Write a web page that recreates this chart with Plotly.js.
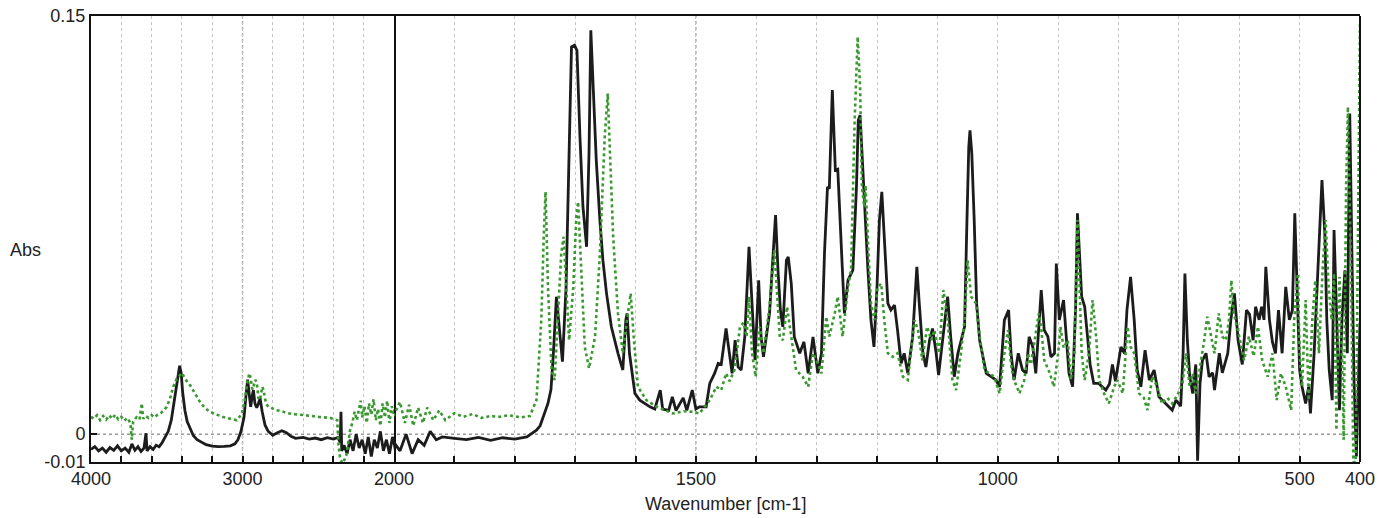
<!DOCTYPE html>
<html>
<head>
<meta charset="utf-8">
<script src="https://cdn.plot.ly/plotly-3.0.1.min.js"></script>
<style>html,body{margin:0;padding:0;background:#fff;}#chart{width:1382px;height:518px;}</style>
</head>
<body>
<div id="chart"></div>
<script>
// Black (solid) spectrum: wavenumber [cm-1] and absorbance
const wnBlack = [4000,3975,3950,3925,3900,3875,3850,3825,3800,3775,3750,3730,3710,3690,3670,3650,3637,3630,3610,3590,3570,3550,3530,3510,3490,3470,3450,3430,3415,3405,3395,3380,3365,3345,3325,3300,3270,3240,3200,3160,3120,3080,3050,3030,3010,2990,2975,2966,2955,2946,2935,2928,2918,2906,2895,2884,2870,2851,2830,2800,2770,2740,2710,2680,2650,2600,2560,2520,2480,2440,2400,2370,2355,2350,2345,2330,2310,2290,2270,2250,2230,2210,2190,2170,2150,2130,2110,2090,2070,2050,2030,2010,2000,
1990,1980,1970,1960,1950,1940,1930,1920,1900,1880,1860,1840,1820,1800,1780,1770,1764,1758,1752,1745,1740,1736,1731,1726,1721,1715,1709,1706,1701,1697,1692,1687,1681,1677,1674,1670,1665,1659,1654,1648,1640,1629,1621,1616,1614,1610,1601,1593,1576,1568,1559,1555,1545,1539,1533,1521,1515,1506,1500,1494,1483,1477,1469,1463,1458,1450,1444,1440,1435,1430,1425,1419,1412,1407,1402,1396,1392,1388,1378,1372,1368,1364,1360,1356,1350,1347,1342,1337,1328,1321,1314,1306,1298,1292,1287,1282,1279,1274,1269,1265,1259,1254,1248,1240,1234,1231,1228,1225,1221,1215,1210,1205,1200,1196,1192,1188,1182,1177,1171,1166,1160,1155,1149,1141,1134,1130,1124,1119,1113,1108,1102,1098,1091,1083,1078,1072,1066,1061,1055,1051,1048,1046,1043,1039,1035,1030,1025,1019,1011,1003,997,989,982,978,973,966,959,953,948,942,937,928,923,917,912,906,903,898,891,886,882,876,871,868,865,861,856,852,847,841,833,821,815,810,805,796,790,786,780,774,769,763,756,749,741,733,722,711,705,697,693,690,686,682,677,672,669,665,661,655,650,644,641,633,628,619,614,608,602,595,588,583,577,573,567,563,559,556,550,545,540,535,529,523,517,512,508,504,500,496,490,485,482,476,468,463,458,455,451,446,443,438,434,430,425,421,417,413,410,406,402,400];
const absBlack = [-0.0055,-0.0045,-0.006,-0.005,-0.0065,-0.0048,-0.0058,-0.0042,-0.006,-0.005,-0.0065,-0.0035,-0.0058,-0.0045,-0.0062,-0.005,0.0003,-0.006,-0.0045,-0.0055,-0.004,-0.0045,-0.003,-0.001,0.001,0.005,0.012,0.019,0.0245,0.022,0.015,0.0085,0.0045,0.002,-0.0005,-0.002,-0.003,-0.0038,-0.0043,-0.0045,-0.0044,-0.0042,-0.0035,-0.002,0.001,0.006,0.015,0.0195,0.014,0.0098,0.014,0.0158,0.011,0.0095,0.011,0.0129,0.008,0.0032,0.001,-0.0004,0.0005,0.0012,0.0005,-0.0008,-0.0015,-0.0012,-0.0018,-0.0014,-0.002,-0.0013,-0.0018,-0.0012,-0.003,0.008,-0.006,-0.004,-0.007,-0.002,-0.006,0.0,-0.005,-0.002,-0.007,-0.001,-0.008,-0.002,-0.005,0.001,-0.006,-0.002,-0.007,-0.001,-0.003,
-0.006,0.0,-0.007,-0.002,-0.004,0.001,-0.002,-0.001,-0.0015,-0.002,-0.0012,-0.0022,-0.0013,-0.0018,-0.001,0.0005,0.0014,0.003,0.0065,0.011,0.016,0.029,0.0493,0.038,0.026,0.0528,0.1126,0.1389,0.1395,0.1377,0.1066,0.0815,0.0672,0.1007,0.1449,0.1246,0.0983,0.0768,0.0624,0.0505,0.0385,0.029,0.023,0.041,0.0433,0.029,0.0146,0.0122,0.0098,0.009,0.0158,0.009,0.0085,0.0134,0.0085,0.013,0.0085,0.0158,0.009,0.0098,0.0098,0.0182,0.0218,0.0254,0.025,0.0379,0.029,0.0218,0.0337,0.0241,0.023,0.0349,0.0672,0.0469,0.0265,0.0552,0.0349,0.0277,0.0433,0.0648,0.0786,0.0588,0.0445,0.0385,0.0624,0.0636,0.054,0.0349,0.029,0.0331,0.0218,0.0349,0.0218,0.029,0.0648,0.0887,0.088,0.1234,0.0947,0.095,0.0648,0.0433,0.0552,0.0588,0.0887,0.1126,0.1144,0.1007,0.0828,0.0588,0.0409,0.0313,0.0528,0.0768,0.0869,0.0708,0.0469,0.0445,0.0463,0.0373,0.0254,0.029,0.0218,0.0349,0.06,0.0469,0.029,0.0241,0.0337,0.0379,0.029,0.0212,0.0349,0.0493,0.035,0.0206,0.029,0.033,0.0385,0.0768,0.103,0.109,0.1007,0.0768,0.0469,0.0337,0.0277,0.0218,0.0206,0.0194,0.017,0.0409,0.0445,0.029,0.0194,0.029,0.023,0.0218,0.0349,0.0313,0.0218,0.0517,0.0373,0.035,0.0277,0.029,0.0612,0.041,0.0481,0.035,0.0218,0.017,0.0457,0.0792,0.0648,0.0493,0.0457,0.035,0.025,0.0182,0.0182,0.0158,0.018,0.025,0.019,0.0313,0.029,0.0445,0.0564,0.041,0.023,0.017,0.0301,0.0194,0.023,0.0134,0.011,0.0086,0.0122,0.010,0.029,0.0576,0.0337,0.0206,0.0146,0.025,-0.0095,0.0182,0.0265,0.029,0.0206,0.022,0.0158,0.029,0.022,0.029,0.0409,0.0505,0.0337,0.025,0.0445,0.043,0.0337,0.0457,0.041,0.0457,0.041,0.06,0.041,0.033,0.029,0.0445,0.029,0.0528,0.041,0.0445,0.0792,0.0528,0.023,0.017,0.011,0.017,0.0074,0.029,0.0648,0.0911,0.0708,0.041,0.023,0.0122,0.0732,0.041,0.0086,0.041,0.0588,0.029,0.115,0.06,0.02,-0.008,0.03,0.04];

// Green (dotted) spectrum
const wnGreen = [4000,3980,3960,3940,3920,3900,3880,3860,3840,3820,3800,3780,3760,3740,3731,3722,3700,3680,3665,3655,3640,3620,3600,3580,3560,3540,3520,3500,3480,3457,3435,3413,3400,3385,3368,3345,3325,3300,3281,3250,3215,3170,3127,3080,3038,3005,2985,2970,2955,2946,2935,2928,2915,2906,2895,2884,2870,2862,2845,2829,2800,2775,2740,2700,2665,2620,2580,2540,2500,2460,2420,2390,2375,2366,2355,2340,2325,2312,2300,2290,2275,2260,2245,2230,2220,2210,2195,2180,2165,2150,2135,2120,2105,2090,2075,2060,2045,2030,2015,2000,
1990,1982,1975,1968,1960,1952,1945,1935,1925,1915,1900,1885,1870,1855,1840,1825,1810,1790,1775,1764,1756,1752,1749,1745,1739,1734,1728,1723,1719,1714,1710,1703,1698,1695,1689,1684,1677,1667,1659,1651,1646,1643,1637,1629,1621,1614,1608,1603,1596,1582,1565,1550,1538,1520,1505,1494,1477,1466,1458,1450,1444,1436,1427,1421,1416,1412,1407,1401,1394,1388,1378,1370,1366,1361,1356,1349,1342,1334,1323,1314,1306,1301,1292,1284,1279,1270,1265,1257,1248,1243,1237,1232,1228,1225,1221,1219,1214,1210,1204,1199,1193,1188,1182,1174,1166,1157,1149,1138,1132,1125,1117,1110,1105,1097,1090,1083,1075,1069,1061,1055,1050,1044,1036,1030,1022,1014,1006,997,989,983,978,973,964,956,950,945,939,932,928,923,914,907,900,896,891,884,879,873,868,865,861,856,849,843,837,832,824,816,807,802,793,785,780,774,766,758,752,744,736,728,719,711,701,694,688,682,677,672,664,658,653,647,641,634,628,622,617,613,609,600,592,584,576,569,562,553,545,538,531,523,514,509,503,500,496,490,485,479,474,468,462,457,452,447,443,439,434,430,427,423,420,415,411,407,403,400];
const absGreen = [0.0062,0.0055,0.0068,0.005,0.0065,0.0052,0.0068,0.0055,0.007,0.0053,0.0062,0.0048,0.0058,0.004,-0.002,0.0045,0.006,0.0052,0.011,0.0055,0.0065,0.0058,0.0068,0.006,0.007,0.0075,0.0085,0.0098,0.0125,0.017,0.0198,0.0212,0.0219,0.0205,0.019,0.0175,0.0158,0.0135,0.0116,0.0095,0.008,0.007,0.0061,0.0055,0.005,0.0072,0.012,0.018,0.0218,0.02,0.016,0.017,0.0195,0.0185,0.013,0.0122,0.017,0.016,0.011,0.0098,0.009,0.0086,0.0082,0.0075,0.0072,0.007,0.0068,0.0065,0.0062,0.006,0.0058,0.0052,0.005,-0.004,-0.009,-0.0105,-0.009,-0.007,-0.003,0.0014,0.004,0.008,0.005,0.009,0.012,0.006,0.01,0.004,0.011,0.007,0.0125,0.005,0.009,0.003,0.011,0.006,0.012,0.004,0.01,0.007,
0.0115,0.004,0.0105,0.003,0.0095,0.004,0.0095,0.005,0.0085,0.005,0.0075,0.0062,0.0072,0.0058,0.0065,0.0062,0.0068,0.006,0.0065,0.0122,0.041,0.0708,0.0869,0.0528,0.023,0.0194,0.047,0.0649,0.0708,0.047,0.0337,0.0528,0.078,0.0833,0.0528,0.0313,0.0236,0.0349,0.0648,0.1066,0.1222,0.1066,0.0708,0.0433,0.029,0.041,0.0505,0.0349,0.017,0.0122,0.0098,0.0085,0.0074,0.0082,0.008,0.0074,0.0122,0.017,0.0158,0.0218,0.019,0.023,0.0385,0.04,0.035,0.0493,0.029,0.0206,0.0385,0.029,0.0457,0.066,0.0528,0.0349,0.0337,0.0457,0.0349,0.023,0.0206,0.017,0.029,0.027,0.0218,0.0421,0.035,0.0433,0.0493,0.035,0.0528,0.0588,0.1126,0.1425,0.1246,0.0887,0.0815,0.0893,0.0648,0.0469,0.0409,0.0528,0.054,0.041,0.029,0.0277,0.029,0.0206,0.0194,0.0409,0.0373,0.0265,0.0385,0.0337,0.0373,0.029,0.0517,0.041,0.0194,0.0158,0.029,0.041,0.0624,0.0493,0.0469,0.035,0.023,0.0218,0.0206,0.0146,0.029,0.0373,0.025,0.0194,0.0146,0.0194,0.029,0.025,0.0337,0.0433,0.038,0.0265,0.022,0.017,0.029,0.0385,0.031,0.0337,0.0194,0.029,0.0768,0.0528,0.029,0.0194,0.029,0.0481,0.035,0.0194,0.0146,0.011,0.017,0.0194,0.0146,0.0385,0.0313,0.029,0.0146,0.013,0.0086,0.0206,0.017,0.011,0.013,0.011,0.0146,0.0182,0.029,0.017,0.0218,0.0146,0.025,0.0337,0.0421,0.035,0.029,0.0433,0.035,0.0337,0.041,0.0552,0.0433,0.035,0.0265,0.035,0.028,0.0385,0.0265,0.0206,0.029,0.0122,0.0218,0.017,0.0086,0.041,0.0576,0.029,0.017,0.0481,0.0122,0.041,0.0552,0.029,0.0588,0.0768,0.0528,0.041,0.0576,0.0014,0.0564,0.029,-0.002,0.0887,0.1174,0.06,-0.01,-0.01,0.07,0.147];

// Axis ticks
const tickHigh = [4000,3800,3600,3400,3200,3000,2800,2600,2400,2200,2000];
const tickHighText = ['4000','','','','','3000','','','','','2000'];
const tickLow = [1900,1800,1700,1600,1500,1400,1300,1200,1100,1000,900,800,700,600,500,400];
const tickLowText = ['','','','','1500','','','','','1000','','','','','500','400'];
const yTicks = [-0.01, 0, 0.15];
const yTickText = ['-0.01','0','0.15'];

const FONT = 'Liberation Sans, Arial, sans-serif';
const split = 303/1269;
const blackStyle = {color:'#1c1c1c', width:2.8};
const greenStyle = {color:'#3a9830', width:2.6, dash:'dot'};

const traces = [
  {x:wnBlack, y:absBlack, xaxis:'x', yaxis:'y', mode:'lines', line:blackStyle, hoverinfo:'skip'},
  {x:wnBlack, y:absBlack, xaxis:'x2', yaxis:'y', mode:'lines', line:blackStyle, hoverinfo:'skip'},
  {x:wnGreen, y:absGreen, xaxis:'x', yaxis:'y', mode:'lines', line:greenStyle, hoverinfo:'skip'},
  {x:wnGreen, y:absGreen, xaxis:'x2', yaxis:'y', mode:'lines', line:greenStyle, hoverinfo:'skip'}
];

const xCommon = {
  anchor:'y', showgrid:true, gridcolor:'#c4c4c4', griddash:'dot', gridwidth:1,
  ticks:'inside', ticklen:6, tickwidth:2, tickcolor:'#111',
  showline:true, linecolor:'#111', linewidth:2, mirror:true, zeroline:false,
  tickfont:{family:FONT, size:18, color:'#222'}, tickmode:'array', ticklabelstandoff:-1
};

const layout = {
  width:1382, height:518,
  margin:{l:91, r:22, t:16, b:56},
  paper_bgcolor:'#fff', plot_bgcolor:'#fff',
  showlegend:false,
  xaxis: Object.assign({}, xCommon, {domain:[0, split], range:[4000, 2000], tickvals:tickHigh, ticktext:tickHighText}),
  xaxis2: Object.assign({}, xCommon, {domain:[split, 1], range:[2000, 400], tickvals:tickLow, ticktext:tickLowText}),
  yaxis: {
    range:[-0.01, 0.15], tickmode:'array', tickvals:yTicks, ticktext:yTickText,
    showgrid:false, zeroline:false, ticks:'inside', ticklen:6, tickwidth:2, tickcolor:'#111',
    showline:true, linecolor:'#111', linewidth:2, mirror:true,
    tickfont:{family:FONT, size:18, color:'#222'}
  },
  shapes:[
    {type:'line', xref:'paper', x0:0, x1:1, yref:'y', y0:0, y1:0, line:{color:'#999', width:1.5, dash:'dot'}, layer:'below'},
    {type:'line', xref:'x', x0:3000, x1:3000, yref:'paper', y0:0, y1:1, line:{color:'#aaa', width:1.5, dash:'dot'}, layer:'below'},
    {type:'line', xref:'x2', x0:1500, x1:1500, yref:'paper', y0:0, y1:1, line:{color:'#aaa', width:1.5, dash:'dot'}, layer:'below'},
    {type:'line', xref:'paper', x0:1, x1:1, yref:'paper', y0:0, y1:1, line:{color:'#111', width:2}}
  ],
  annotations:[
    {text:'Abs', xref:'paper', yref:'paper', x:-0.052, y:0.475, xanchor:'center', yanchor:'middle', showarrow:false, font:{family:FONT, size:18, color:'#222'}},
    {text:'Wavenumber [cm-1]', xref:'paper', yref:'paper', x:0.5, y:-0.094, xanchor:'center', yanchor:'middle', showarrow:false, font:{family:FONT, size:18, color:'#222'}}
  ]
};

Plotly.newPlot('chart', traces, layout, {staticPlot:true, displayModeBar:false});
</script>
</body>
</html>
